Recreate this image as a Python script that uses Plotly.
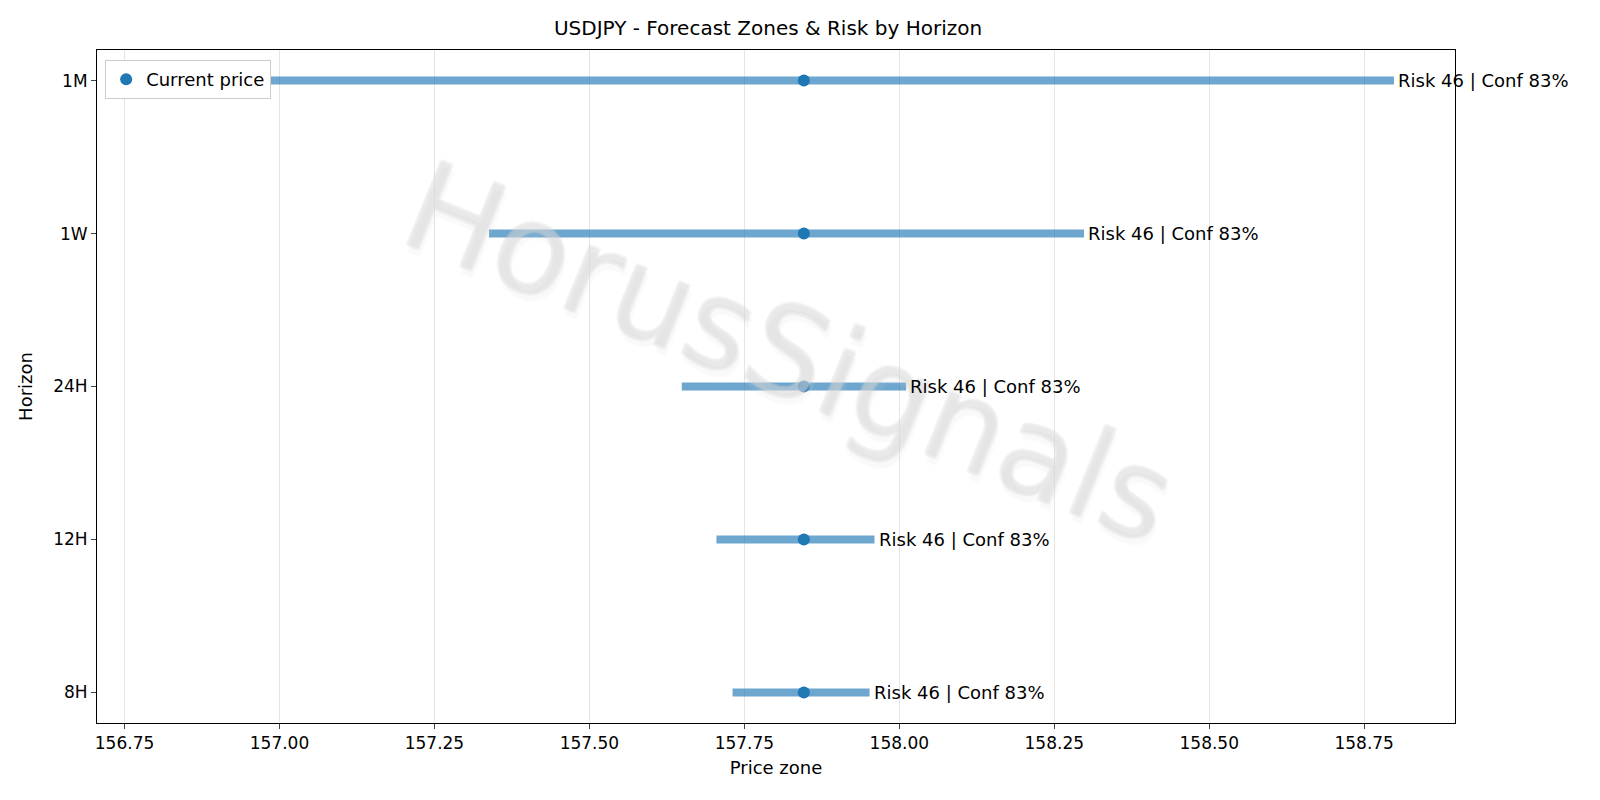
import plotly.graph_objects as go

horizons = ["8H", "12H", "24H", "1W", "1M"]
low = [157.731, 157.705, 157.649, 157.338, 156.804]
high = [157.952, 157.960, 158.011, 158.298, 158.798]
current = [157.846, 157.846, 157.846, 157.846, 157.846]
risk = [46, 46, 46, 46, 46]
conf = [83, 83, 83, 83, 83]
xticks = [156.75, 157.00, 157.25, 157.50, 157.75, 158.00, 158.25, 158.50, 158.75]

fig = go.Figure()
fig.add_annotation(x=0.51, y=0.55, xref="paper", yref="paper", text="HorusSignals",
                   showarrow=False, textangle=22,
                   font=dict(size=125, color="rgba(255,255,255,0.15)", family="DejaVu Sans",
                             shadow="-1px -1px 0 #c8c8c8, 1px 1px 0 #c8c8c8, 1px -1px 0 #c8c8c8, -1px 1px 0 #c8c8c8, 4px 6px 2px #d5d5d5"))
for i, h in enumerate(horizons):
    fig.add_trace(go.Scatter(x=[low[i], high[i]], y=[h, h], mode="lines",
                             line=dict(color="rgba(31,119,180,0.65)", width=8),
                             showlegend=False, hoverinfo="skip"))
    fig.add_annotation(x=high[i], y=h, text=f"Risk {risk[i]} | Conf {conf[i]}%",
                       xanchor="left", showarrow=False, xshift=2,
                       font=dict(size=18, color="black"))
fig.add_trace(go.Scatter(x=current, y=horizons, mode="markers", name="Current price",
                         marker=dict(color="#1f77b4", size=12)))

fig.update_layout(
    width=1600, height=800, plot_bgcolor="white", paper_bgcolor="white",
    margin=dict(l=89, r=153, t=42, b=85),
    font=dict(family="DejaVu Sans", size=17, color="black"),
    title=dict(text="USDJPY - Forecast Zones & Risk by Horizon", x=0.475, xanchor="center",
               y=0.975, yanchor="middle", font=dict(size=20)),
    legend=dict(x=0.006, y=0.985, xanchor="left", yanchor="top", bgcolor="white",
                bordercolor="#ccc", borderwidth=1, font=dict(size=18)),
    xaxis=dict(range=[156.7056, 158.8965], tickvals=xticks,
               ticktext=[f"{v:.2f}" for v in xticks], showgrid=True, gridcolor="#e5e5e5",
               showline=True, linecolor="black", mirror=True, ticks="outside",
               title=dict(text="Price zone", font=dict(size=18), standoff=8), zeroline=False),
    yaxis=dict(type="category", categoryorder="array", categoryarray=horizons,
               range=[-0.2, 4.2], showgrid=False, showline=True, linecolor="black",
               mirror=True, ticks="outside", title=dict(text="Horizon", font=dict(size=18))),
)
fig.write_html("out.html")
